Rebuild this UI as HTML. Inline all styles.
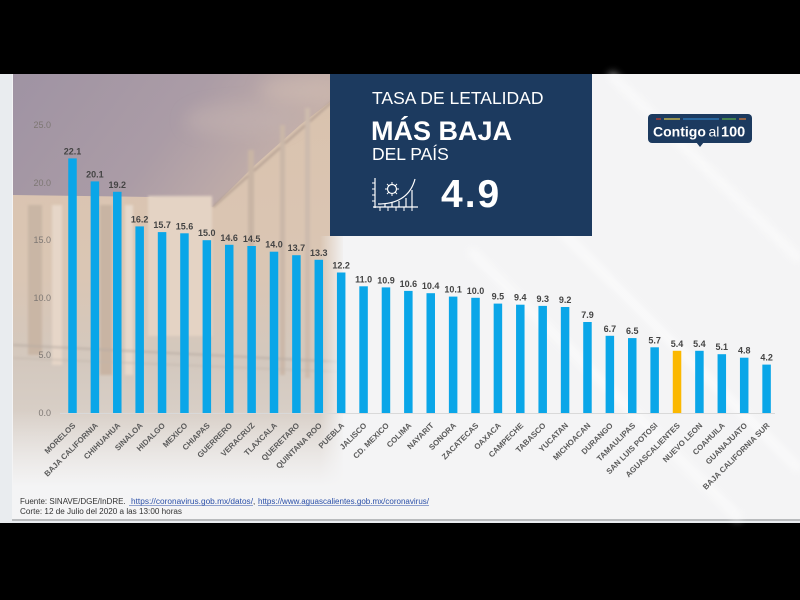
<!DOCTYPE html>
<html>
<head>
<meta charset="utf-8">
<style>
  html,body{margin:0;padding:0;background:#000;}
  body{width:800px;height:600px;overflow:hidden;position:relative;font-family:"Liberation Sans",sans-serif;}
  svg{position:absolute;left:0;top:0;}
</style>
</head>
<body>
<svg width="800" height="600" viewBox="0 0 800 600" xmlns="http://www.w3.org/2000/svg">
  <defs>
    <linearGradient id="sky" x1="0" y1="0" x2="1" y2="0.3">
      <stop offset="0" stop-color="#9f93a3"/>
      <stop offset="0.55" stop-color="#ab9ca6"/>
      <stop offset="1" stop-color="#c8b3aa"/>
    </linearGradient>
    <linearGradient id="bld" x1="0" y1="0" x2="0" y2="1">
      <stop offset="0" stop-color="#d9c2ad"/>
      <stop offset="0.45" stop-color="#dac6b4"/>
      <stop offset="0.65" stop-color="#d3c8be"/>
      <stop offset="1" stop-color="#e2dcd7"/>
    </linearGradient>
    <linearGradient id="fadeR" x1="0" y1="0" x2="1" y2="0">
      <stop offset="0" stop-color="#f4f4f5" stop-opacity="0"/>
      <stop offset="1" stop-color="#f4f4f5" stop-opacity="1"/>
    </linearGradient>
    <linearGradient id="fadeB" x1="0" y1="0" x2="0" y2="1">
      <stop offset="0" stop-color="#f4f4f5" stop-opacity="0"/>
      <stop offset="0.7" stop-color="#f4f4f5" stop-opacity="1"/>
      <stop offset="1" stop-color="#f4f4f5" stop-opacity="1"/>
    </linearGradient>
    <filter id="blur" x="-20%" y="-20%" width="140%" height="140%">
      <feGaussianBlur stdDeviation="8"/>
    </filter>
    <filter id="blur2"><feGaussianBlur stdDeviation="1.2"/></filter>
    <filter id="blur3"><feGaussianBlur stdDeviation="4"/></filter>
    <clipPath id="photoClip"><rect x="13" y="74" width="330" height="445"/></clipPath>
  </defs>

  <!-- outer black & panel -->
  <rect x="0" y="0" width="800" height="600" fill="#000"/>
  <rect x="0" y="74" width="800" height="449" fill="#e9ecef"/>
  <rect x="12" y="74" width="788" height="447" fill="#b9bbbd"/>
  <rect x="12" y="74" width="788" height="445" fill="#f4f4f5"/>

  <!-- diagonal stripes right side (subtle) -->
  <g stroke="#ffffff" stroke-width="8" opacity="0.6" filter="url(#blur3)">
    <line x1="610" y1="74" x2="800" y2="260"/>
    <line x1="470" y1="250" x2="740" y2="519"/>
    <line x1="560" y1="230" x2="800" y2="470"/>
  </g>

  <!-- photo -->
  <g clip-path="url(#photoClip)">
    <rect x="13" y="74" width="330" height="445" fill="url(#bld)"/>
    <polygon points="13,74 343,74 343,92 300,125 255,165 213,207 150,197 13,195" fill="url(#sky)"/>
    <g filter="url(#blur)" opacity="0.5">
      <ellipse cx="240" cy="120" rx="55" ry="16" fill="#c4b3b0"/>
      <ellipse cx="300" cy="90" rx="40" ry="14" fill="#d2beb3"/>
    </g>
    <g filter="url(#blur2)">
      <rect x="28" y="205" width="14" height="150" fill="#c9b6a5"/>
      <rect x="52" y="205" width="10" height="160" fill="#e6d6c8"/>
      <rect x="100" y="205" width="12" height="170" fill="#c8b4a3"/>
      <rect x="125" y="205" width="8" height="170" fill="#e6d8cb"/>
      <rect x="148" y="196" width="64" height="140" fill="#e4d3c4"/>
      <line x1="213" y1="207" x2="343" y2="92" stroke="#b39f92" stroke-width="2"/>
      <rect x="248" y="150" width="6" height="230" fill="#c9b5a5"/>
      <rect x="280" y="125" width="5" height="250" fill="#cab7a8"/>
      <rect x="305" y="108" width="5" height="270" fill="#cdbbad"/>
      <line x1="13" y1="345" x2="343" y2="362" stroke="#b8aca3" stroke-width="1.5"/>
      <line x1="13" y1="358" x2="343" y2="372" stroke="#c1b5ab" stroke-width="1"/>
    </g>
    <rect x="320" y="236" width="25" height="285" fill="url(#fadeR)"/>
    <rect x="13" y="410" width="332" height="110" fill="url(#fadeB)"/>
  </g>

  <!-- navy box -->
  <rect x="330" y="74" width="262" height="162" fill="#1c3a5f"/>
  <text x="372" y="104" fill="#ffffff" font-size="17.5" font-family="Liberation Sans, sans-serif">TASA DE LETALIDAD</text>
  <text x="371" y="140" fill="#ffffff" font-size="27" font-weight="bold" font-family="Liberation Sans, sans-serif">MÁS BAJA</text>
  <text x="372" y="160" fill="#ffffff" font-size="17.5" font-family="Liberation Sans, sans-serif">DEL PAÍS</text>
  <text x="441" y="207" fill="#ffffff" font-size="39" font-weight="bold" letter-spacing="2" font-family="Liberation Sans, sans-serif">4.9</text>
  <!-- icon -->
  <g stroke="#ffffff" fill="none" stroke-width="1.2">
    <line x1="375" y1="178" x2="375" y2="208"/>
    <line x1="373" y1="207" x2="418" y2="207"/>
    <g stroke-width="1">
      <line x1="372" y1="183" x2="375" y2="183"/>
      <line x1="372" y1="189" x2="375" y2="189"/>
      <line x1="372" y1="195" x2="375" y2="195"/>
      <line x1="372" y1="201" x2="375" y2="201"/>
      <line x1="380" y1="207" x2="380" y2="211"/>
      <line x1="388" y1="207" x2="388" y2="211"/>
      <line x1="396" y1="207" x2="396" y2="211"/>
      <line x1="404" y1="207" x2="404" y2="211"/>
      <line x1="412" y1="207" x2="412" y2="211"/>
    </g>
    <path d="M378,204 C395,204 410,198 415,179"/>
    <line x1="385" y1="203.5" x2="385" y2="207"/>
    <line x1="392" y1="202.5" x2="392" y2="207"/>
    <line x1="399" y1="201" x2="399" y2="207"/>
    <line x1="406" y1="198" x2="406" y2="207"/>
    <line x1="412" y1="190" x2="412" y2="207"/>
    <circle cx="392" cy="189" r="4.5"/>
    <g stroke-width="1">
      <line x1="392" y1="182" x2="392" y2="184.5"/>
      <line x1="392" y1="193.5" x2="392" y2="196"/>
      <line x1="385" y1="189" x2="387.5" y2="189"/>
      <line x1="396.5" y1="189" x2="399" y2="189"/>
      <line x1="387" y1="184" x2="388.8" y2="185.8"/>
      <line x1="395.2" y1="192.2" x2="397" y2="194"/>
      <line x1="397" y1="184" x2="395.2" y2="185.8"/>
      <line x1="388.8" y1="192.2" x2="387" y2="194"/>
    </g>
  </g>

  <!-- logo -->
  <rect x="648" y="114" width="104" height="29" rx="4" fill="#1c3a5f"/>
  <polygon points="696,142 704,142 700,147" fill="#1c3a5f"/>
  <g stroke-width="1.3">
    <line x1="656" y1="119" x2="661" y2="119" stroke="#c0392b"/>
    <line x1="664" y1="119" x2="680" y2="119" stroke="#d8c24a"/>
    <line x1="683" y1="119" x2="719" y2="119" stroke="#2f7fc0"/>
    <line x1="722" y1="119" x2="736" y2="119" stroke="#5aa84a"/>
    <line x1="739" y1="119" x2="746" y2="119" stroke="#d07a3a"/>
  </g>
  <text x="653" y="136.5" fill="#ffffff" font-size="14" font-weight="bold" font-family="Liberation Sans, sans-serif">Contigo</text>
  <text x="708.5" y="136.5" fill="#ffffff" font-size="14" font-family="Liberation Sans, sans-serif">al</text>
  <text x="721" y="136.5" fill="#ffffff" font-size="14.5" font-weight="bold" font-family="Liberation Sans, sans-serif">100</text>

  <!-- y axis labels -->
  <g font-size="9" fill="#7d7773" text-anchor="end" font-family="Liberation Sans, sans-serif">
    <text x="51" y="128">25.0</text>
    <text x="51" y="186">20.0</text>
    <text x="51" y="243">15.0</text>
    <text x="51" y="301">10.0</text>
    <text x="51" y="358">5.0</text>
    <text x="51" y="416">0.0</text>
  </g>

  <!-- baseline -->
  <line x1="60" y1="413.5" x2="775" y2="413.5" stroke="#d9d9d9" stroke-width="1"/>
</svg>

<svg width="800" height="600" viewBox="0 0 800 600" xmlns="http://www.w3.org/2000/svg">
  <g fill="#0aa6e8">
    <rect x="68.25" y="158.4" width="8.5" height="254.6"/>
    <rect x="90.64" y="181.4" width="8.5" height="231.6"/>
    <rect x="113.03" y="191.8" width="8.5" height="221.2"/>
    <rect x="135.42" y="226.4" width="8.5" height="186.6"/>
    <rect x="157.81" y="232.1" width="8.5" height="180.9"/>
    <rect x="180.20" y="233.3" width="8.5" height="179.7"/>
    <rect x="202.59" y="240.2" width="8.5" height="172.8"/>
    <rect x="224.98" y="244.8" width="8.5" height="168.2"/>
    <rect x="247.37" y="246.0" width="8.5" height="167.0"/>
    <rect x="269.76" y="251.7" width="8.5" height="161.3"/>
    <rect x="292.15" y="255.2" width="8.5" height="157.8"/>
    <rect x="314.54" y="259.8" width="8.5" height="153.2"/>
    <rect x="336.93" y="272.5" width="8.5" height="140.5"/>
    <rect x="359.32" y="286.3" width="8.5" height="126.7"/>
    <rect x="381.71" y="287.4" width="8.5" height="125.6"/>
    <rect x="404.10" y="290.9" width="8.5" height="122.1"/>
    <rect x="426.49" y="293.2" width="8.5" height="119.8"/>
    <rect x="448.88" y="296.6" width="8.5" height="116.4"/>
    <rect x="471.27" y="297.8" width="8.5" height="115.2"/>
    <rect x="493.66" y="303.6" width="8.5" height="109.4"/>
    <rect x="516.05" y="304.7" width="8.5" height="108.3"/>
    <rect x="538.44" y="305.9" width="8.5" height="107.1"/>
    <rect x="560.83" y="307.0" width="8.5" height="106.0"/>
    <rect x="583.22" y="322.0" width="8.5" height="91.0"/>
    <rect x="605.61" y="335.8" width="8.5" height="77.2"/>
    <rect x="628.00" y="338.1" width="8.5" height="74.9"/>
    <rect x="650.39" y="347.3" width="8.5" height="65.7"/>
    <rect x="695.17" y="350.8" width="8.5" height="62.2"/>
    <rect x="717.56" y="354.2" width="8.5" height="58.8"/>
    <rect x="739.95" y="357.7" width="8.5" height="55.3"/>
    <rect x="762.34" y="364.6" width="8.5" height="48.4"/>
  </g>
  <rect x="672.78" y="350.8" width="8.5" height="62.2" fill="#fbb800"/>

  <!-- value labels -->
  <g font-size="9" font-weight="bold" fill="#444" text-anchor="middle" font-family="Liberation Sans, sans-serif">
    <text x="72.5" y="154.4">22.1</text>
    <text x="94.9" y="177.4">20.1</text>
    <text x="117.3" y="187.8">19.2</text>
    <text x="139.7" y="222.4">16.2</text>
    <text x="162.1" y="228.1">15.7</text>
    <text x="184.5" y="229.3">15.6</text>
    <text x="206.8" y="236.2">15.0</text>
    <text x="229.2" y="240.8">14.6</text>
    <text x="251.6" y="242.0">14.5</text>
    <text x="274.0" y="247.7">14.0</text>
    <text x="296.4" y="251.2">13.7</text>
    <text x="318.8" y="255.8">13.3</text>
    <text x="341.2" y="268.5">12.2</text>
    <text x="363.6" y="282.3">11.0</text>
    <text x="386.0" y="283.4">10.9</text>
    <text x="408.4" y="286.9">10.6</text>
    <text x="430.7" y="289.2">10.4</text>
    <text x="453.1" y="292.6">10.1</text>
    <text x="475.5" y="293.8">10.0</text>
    <text x="497.9" y="299.6">9.5</text>
    <text x="520.3" y="300.7">9.4</text>
    <text x="542.7" y="301.9">9.3</text>
    <text x="565.1" y="303.0">9.2</text>
    <text x="587.5" y="318.0">7.9</text>
    <text x="609.9" y="331.8">6.7</text>
    <text x="632.3" y="334.1">6.5</text>
    <text x="654.6" y="343.3">5.7</text>
    <text x="677.0" y="346.8">5.4</text>
    <text x="699.4" y="346.8">5.4</text>
    <text x="721.8" y="350.2">5.1</text>
    <text x="744.2" y="353.7">4.8</text>
    <text x="766.6" y="360.6">4.2</text>
  </g>

  <!-- category labels -->
  <g font-size="7.9" font-weight="bold" fill="#5a5a5a" text-anchor="end" font-family="Liberation Sans, sans-serif">
    <text transform="translate(76,426) rotate(-45)">MORELOS</text>
    <text transform="translate(98.4,426) rotate(-45)">BAJA CALIFORNIA</text>
    <text transform="translate(120.8,426) rotate(-45)">CHIHUAHUA</text>
    <text transform="translate(143.2,426) rotate(-45)">SINALOA</text>
    <text transform="translate(165.6,426) rotate(-45)">HIDALGO</text>
    <text transform="translate(188,426) rotate(-45)">MEXICO</text>
    <text transform="translate(210.3,426) rotate(-45)">CHIAPAS</text>
    <text transform="translate(232.7,426) rotate(-45)">GUERRERO</text>
    <text transform="translate(255.1,426) rotate(-45)">VERACRUZ</text>
    <text transform="translate(277.5,426) rotate(-45)">TLAXCALA</text>
    <text transform="translate(299.9,426) rotate(-45)">QUERETARO</text>
    <text transform="translate(322.3,426) rotate(-45)">QUINTANA ROO</text>
    <text transform="translate(344.7,426) rotate(-45)">PUEBLA</text>
    <text transform="translate(367.1,426) rotate(-45)">JALISCO</text>
    <text transform="translate(389.5,426) rotate(-45)">CD. MEXICO</text>
    <text transform="translate(411.9,426) rotate(-45)">COLIMA</text>
    <text transform="translate(434.2,426) rotate(-45)">NAYARIT</text>
    <text transform="translate(456.6,426) rotate(-45)">SONORA</text>
    <text transform="translate(479,426) rotate(-45)">ZACATECAS</text>
    <text transform="translate(501.4,426) rotate(-45)">OAXACA</text>
    <text transform="translate(523.8,426) rotate(-45)">CAMPECHE</text>
    <text transform="translate(546.2,426) rotate(-45)">TABASCO</text>
    <text transform="translate(568.6,426) rotate(-45)">YUCATAN</text>
    <text transform="translate(591,426) rotate(-45)">MICHOACAN</text>
    <text transform="translate(613.4,426) rotate(-45)">DURANGO</text>
    <text transform="translate(635.8,426) rotate(-45)">TAMAULIPAS</text>
    <text transform="translate(658.1,426) rotate(-45)">SAN LUIS POTOSI</text>
    <text transform="translate(680.5,426) rotate(-45)">AGUASCALIENTES</text>
    <text transform="translate(702.9,426) rotate(-45)">NUEVO LEON</text>
    <text transform="translate(725.3,426) rotate(-45)">COAHUILA</text>
    <text transform="translate(747.7,426) rotate(-45)">GUANAJUATO</text>
    <text transform="translate(770.1,426) rotate(-45)">BAJA CALIFORNIA SUR</text>
  </g>

  <!-- footer -->
  <g font-size="8" font-family="Liberation Sans, sans-serif">
    <text x="20" y="504" fill="#333">Fuente: SINAVE/DGE/InDRE.</text>
    <text x="131" y="504" fill="#2a4fa8" textLength="122" lengthAdjust="spacingAndGlyphs">https://coronavirus.gob.mx/datos/</text>
    <text x="253" y="504" fill="#333">,</text>
    <text x="258" y="504" fill="#2a4fa8" textLength="171" lengthAdjust="spacingAndGlyphs">https://www.aguascalientes.gob.mx/coronavirus/</text>
    <line x1="129" y1="505.5" x2="253" y2="505.5" stroke="#2a4fa8" stroke-width="0.6"/>
    <line x1="258" y1="505.5" x2="429" y2="505.5" stroke="#2a4fa8" stroke-width="0.6"/>
    <text x="20" y="514" fill="#333" textLength="162" lengthAdjust="spacingAndGlyphs">Corte: 12 de Julio del 2020 a las 13:00 horas</text>
  </g>
</svg>
</body>
</html>
